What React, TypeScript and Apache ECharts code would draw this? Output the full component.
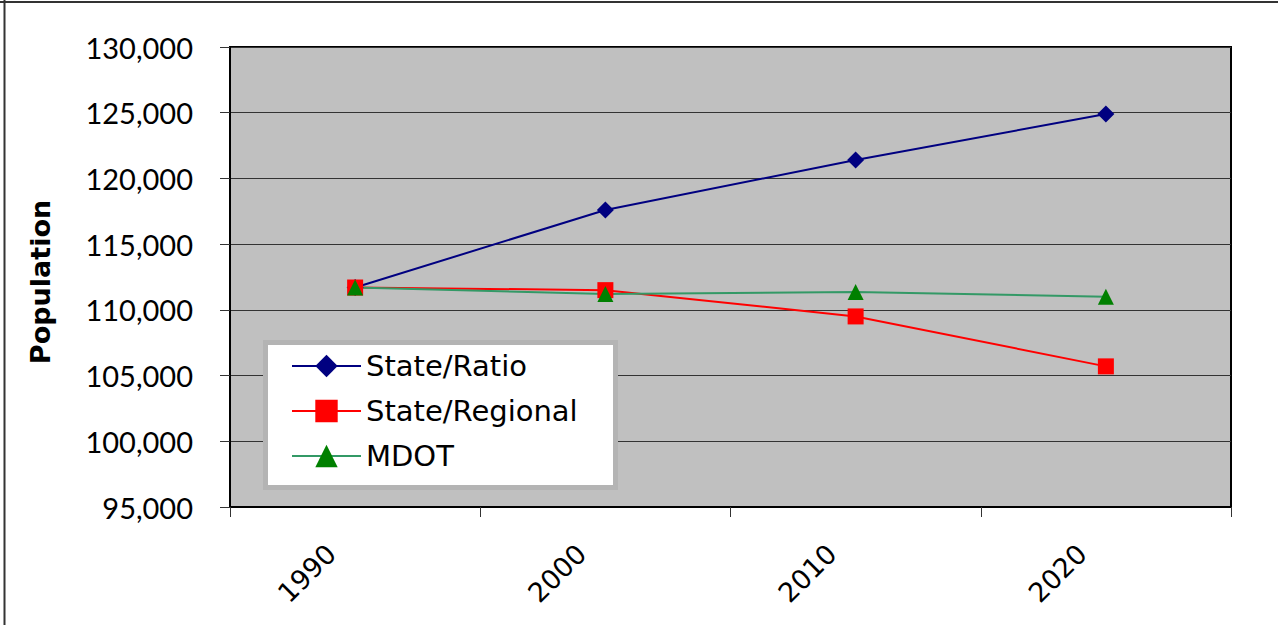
import React, { useEffect, useRef } from "react";
import * as echarts from "echarts";

const categories = ["1990", "2000", "2010", "2020"];
const stateRatio = [111700, 117600, 121400, 124900];
const stateRegional = [111700, 111500, 109500, 105700];
const mdot = [111700, 111200, 111350, 111000];
const yMin = 95000;
const yMax = 130000;
const yStep = 5000;

const FONT = "Lato, 'DejaVu Sans', sans-serif";
const WIDE = "'DejaVu Sans', sans-serif";

export default function App() {
  const ref = useRef<HTMLDivElement>(null);
  useEffect(() => {
    document.body.style.margin = "0";
    if (!ref.current) return;
    const chart = echarts.init(ref.current, null, { renderer: "svg" });
    chart.setOption({
      animation: false,
      backgroundColor: "#ffffff",
      textStyle: { fontFamily: FONT },
      grid: {
        left: 230,
        top: 47,
        right: 47,
        bottom: 118,
        show: true,
        backgroundColor: "#c0c0c0",
        borderColor: "#000000",
        borderWidth: 2,
        containLabel: false,
      },
      legend: {
        orient: "vertical",
        left: 291,
        top: 351,
        itemWidth: 69,
        itemHeight: 28,
        itemGap: 15,
        padding: 0,
        textStyle: { fontSize: 29, color: "#000", fontFamily: WIDE, lineHeight: 30, padding: [0, 0, 0, 0] },
        data: ["State/Ratio", "State/Regional", "MDOT"],
      },
      graphic: [
        {
          type: "rect",
          z: 3,
          shape: { x: 265.5, y: 342.5, width: 350, height: 145 },
          style: { fill: "#ffffff", stroke: "#b4b4b4", lineWidth: 5 },
        },
        {
          type: "line",
          z: 10,
          shape: { x1: 0, y1: 2, x2: 1278, y2: 2 },
          style: { stroke: "#333", lineWidth: 2 },
        },
        {
          type: "line",
          z: 10,
          shape: { x1: 4.5, y1: 0, x2: 4.5, y2: 625 },
          style: { stroke: "#333", lineWidth: 2 },
        },
        {
          type: "text",
          z: 10,
          x: 40,
          y: 282,
          rotation: Math.PI / 2,
          style: {
            text: "Population",
            fontSize: 27,
            fontWeight: "bold",
            fontFamily: WIDE,
            fill: "#000",
            align: "center",
            verticalAlign: "middle",
          },
        },
      ],
      xAxis: {
        type: "category",
        data: categories,
        boundaryGap: true,
        axisLine: { show: true, lineStyle: { color: "#000", width: 2 } },
        axisTick: { show: true, length: 10, lineStyle: { color: "#333", width: 1 } },
        axisLabel: {
          rotate: 45,
          fontSize: 27,
          color: "#000",
          margin: 18,
          fontFamily: WIDE,
          padding: [0, 34, 0, 0],
        },
        splitLine: { show: false },
      },
      yAxis: {
        type: "value",
        min: yMin,
        max: yMax,
        interval: yStep,
        axisLine: { show: true, lineStyle: { color: "#000", width: 2 } },
        axisTick: { show: true, length: 10, lineStyle: { color: "#333", width: 1 } },
        axisLabel: {
          fontSize: 29,
          color: "#000",
          margin: 37,
          fontFamily: FONT,
          formatter: (v: number) => v.toLocaleString("en-US"),
        },
        splitLine: { show: true, lineStyle: { color: "#333", width: 1 } },
      },
      series: [
        {
          name: "State/Ratio",
          type: "line",
          data: stateRatio,
          symbol: "diamond",
          symbolSize: 17,
          lineStyle: { color: "#000080", width: 2 },
          itemStyle: { color: "#000080" },
        },
        {
          name: "State/Regional",
          type: "line",
          data: stateRegional,
          symbol: "rect",
          symbolSize: 16,
          lineStyle: { color: "#ff0000", width: 2 },
          itemStyle: { color: "#ff0000" },
        },
        {
          name: "MDOT",
          type: "line",
          data: mdot,
          symbol: "triangle",
          symbolSize: 16,
          lineStyle: { color: "#339966", width: 2 },
          itemStyle: { color: "#008000" },
        },
      ],
    });
    return () => chart.dispose();
  }, []);
  return <div ref={ref} style={{ width: 1278, height: 625 }} />;
}
